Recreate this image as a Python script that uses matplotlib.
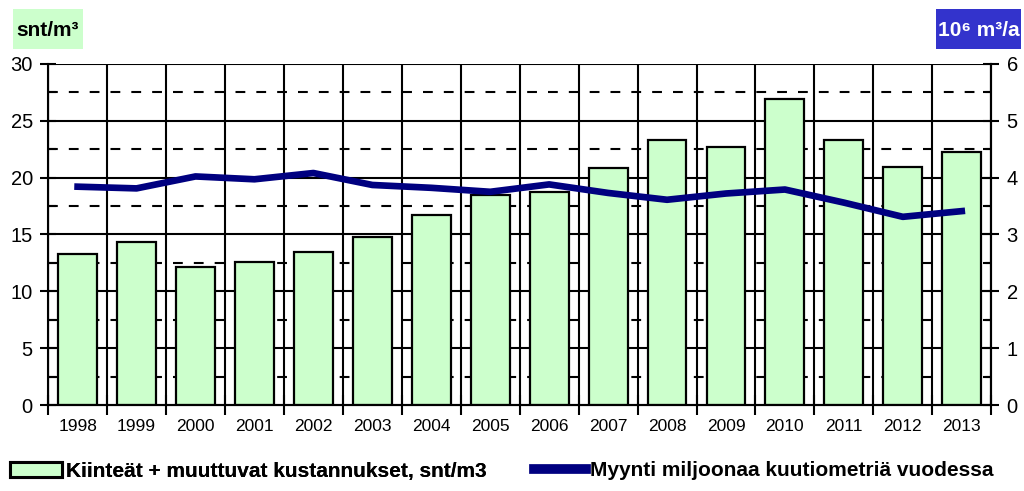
import matplotlib.pyplot as plt
import numpy as np
from matplotlib.ticker import MultipleLocator, FixedLocator
from matplotlib.patches import Patch, Rectangle
from matplotlib.lines import Line2D

plt.rcParams['font.family'] = ['Liberation Sans', 'DejaVu Sans']

years = ["1998", "1999", "2000", "2001", "2002", "2003", "2004", "2005",
         "2006", "2007", "2008", "2009", "2010", "2011", "2012", "2013"]
costs = [13.3, 14.3, 12.1, 12.6, 13.5, 14.8, 16.7, 18.5,
         18.75, 20.85, 23.3, 22.65, 26.9, 23.3, 20.9, 22.25]
sales = [3.84, 3.81, 4.02, 3.97, 4.08, 3.87, 3.82, 3.75,
         3.88, 3.73, 3.61, 3.72, 3.79, 3.56, 3.31, 3.41]

fig = plt.figure(figsize=(10.24, 4.91), dpi=100)
ax = fig.add_axes([0.047, 0.175, 0.921, 0.695])
x = np.arange(len(years))

ax.set_axisbelow(True)
ax.bar(x, costs, width=0.66, color="#ccffcc", edgecolor="black", linewidth=1.6, zorder=2)

ax.set_xlim(-0.5, len(years) - 0.5)
ax.set_ylim(0, 30)
ax.yaxis.set_major_locator(MultipleLocator(5))
ax.yaxis.set_minor_locator(MultipleLocator(2.5))
ax.set_xticks(x)
ax.set_xticklabels(years, fontsize=12.5)
ax.xaxis.set_minor_locator(FixedLocator(np.arange(-0.5, len(years), 1)))

# grid: solid majors, dashed minors, vertical lines between categories
ax.grid(True, axis="y", which="major", color="black", linewidth=1.5, zorder=0)
ax.grid(True, axis="y", which="minor", color="black", linewidth=1.5, linestyle=(0, (4.7, 5.3)), zorder=0)
ax.grid(True, axis="x", which="minor", color="black", linewidth=1.5, zorder=0)

ax.tick_params(axis="y", which="major", direction="inout", length=12, width=1.5, labelsize=14.5, pad=5)
ax.tick_params(axis="y", which="minor", direction="in", length=6, width=1.5)
ax.tick_params(axis="x", which="major", length=0, pad=10)
ax.tick_params(axis="x", which="minor", direction="inout", length=14, width=1.5)

ax.spines["top"].set_visible(False)
for s in ["left", "bottom", "right"]:
    ax.spines[s].set_linewidth(1.5)

ax2 = ax.twinx()
ax2.plot(x, sales, color="#000080", linewidth=4.8, zorder=5)
ax2.set_ylim(0, 6)
ax2.yaxis.set_major_locator(MultipleLocator(1))
ax2.yaxis.set_minor_locator(MultipleLocator(0.5))
ax2.tick_params(axis="y", which="major", direction="inout", length=12, width=1.5, labelsize=14.5, pad=5)
ax2.tick_params(axis="y", which="minor", direction="in", length=6, width=1.5)
ax2.spines["top"].set_visible(False)
ax2.spines["right"].set_linewidth(1.5)

# unit labels with coloured boxes
fig.patches.append(Rectangle((13 / 1024, 1 - 49 / 491), 70 / 1024, 40 / 491,
                             transform=fig.transFigure, facecolor="#ccffcc", edgecolor="none"))
fig.text(48 / 1024, 1 - 30 / 491, "snt/m³", fontsize=15, fontweight="bold", ha="center", va="center")
fig.patches.append(Rectangle((936 / 1024, 1 - 49 / 491), 85 / 1024, 40 / 491,
                             transform=fig.transFigure, facecolor="#3333cc", edgecolor="none"))
fig.text(978.5 / 1024, 1 - 30 / 491, "10⁶ m³/a", fontsize=15, fontweight="bold", color="white",
         ha="center", va="center", family=["Liberation Sans", "DejaVu Sans"])

# legend, two entries placed separately
leg1 = fig.legend([Patch(facecolor="#ccffcc", edgecolor="black", linewidth=2.2)],
                  ["Kiinteät + muuttuvat kustannukset, snt/m3"],
                  loc="center left", bbox_to_anchor=(10 / 1024, 1 - 471 / 491), frameon=False,
                  prop={"weight": "bold", "size": 15}, handlelength=2.5, handleheight=0.7,
                  handletextpad=0.2, borderpad=0, borderaxespad=0)
fig.legend([Line2D([0], [0], color="#000080", linewidth=7)],
           ["Myynti miljoonaa kuutiometriä vuodessa"],
           loc="center left", bbox_to_anchor=(534 / 1024, 1 - 471 / 491), frameon=False,
           prop={"weight": "bold", "size": 15}, handlelength=2.5,
           handletextpad=0.2, borderpad=0, borderaxespad=0)
fig.add_artist(leg1)

fig.savefig("out.png", dpi=100)
